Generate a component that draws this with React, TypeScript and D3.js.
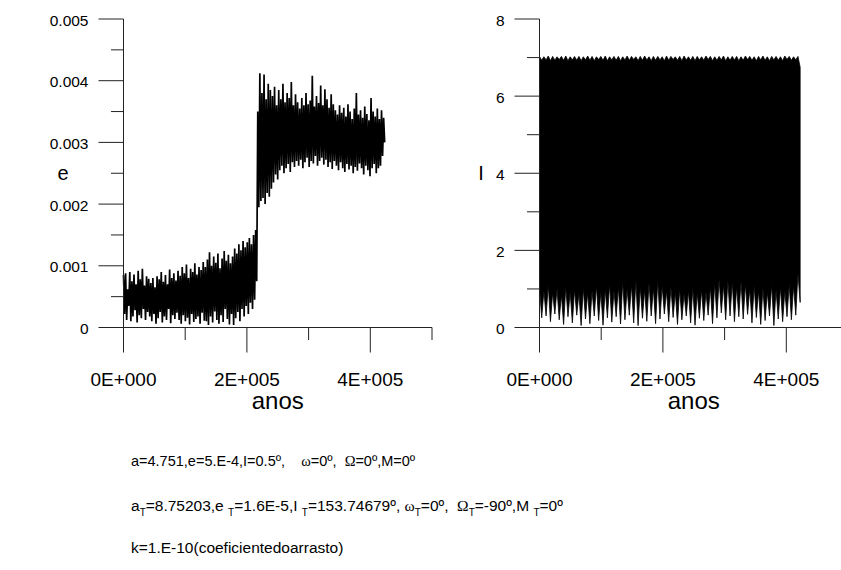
import React from 'react';
import * as d3 from 'd3';

const W = 841;
const H = 570;

// ---------- axes data ----------
const xMajorTicks = [0, 200000, 400000];
const xMajorLabels = ['0E+000', '2E+005', '4E+005'];
const xMinorTicks = [100000, 300000, 500000];
const xDomain = [0, 500000];

const eDomain = [0, 0.005];
const eMajorTicks = [0, 0.001, 0.002, 0.003, 0.004, 0.005];
const eMajorLabels = ['0', '0.001', '0.002', '0.003', '0.004', '0.005'];
const eMinorTicks = [0.0005, 0.0015, 0.0025, 0.0035, 0.0045];

const iDomain = [0, 8];
const iMajorTicks = [0, 2, 4, 6, 8];
const iMajorLabels = ['0', '2', '4', '6', '8'];
const iMinorTicks = [1, 3, 5, 7];

// ---------- eccentricity series (alternating local maxima / minima) ----------
const eStepYears = 1700;
const eHigh = [
  0.00085, 0.00088, 0.00062, 0.0009, 0.00075, 0.00086, 0.0007, 0.00092, 0.00078, 0.00095, 0.00068, 0.00083, 0.00079,
  0.00072, 0.0008, 0.00065, 0.00083, 0.00078, 0.0009, 0.00074, 0.00085, 0.0007, 0.00094, 0.0008, 0.00088, 0.00076,
  0.00092, 0.00084, 0.00098, 0.00088, 0.00102, 0.0008, 0.00095, 0.0009, 0.00104, 0.00086, 0.00098, 0.00093, 0.00106,
  0.00098, 0.0011, 0.00122, 0.001, 0.00115, 0.00105, 0.0012, 0.00096, 0.00112, 0.00124, 0.00108, 0.00118, 0.00104,
  0.00115, 0.00128, 0.0012, 0.00135, 0.00125, 0.0014, 0.0013, 0.00138, 0.00145, 0.00135, 0.0015, 0.00158,
  0.0035, 0.00412, 0.0038, 0.0041, 0.0037, 0.00395, 0.00385,
  0.00375, 0.0039, 0.0036, 0.00385, 0.0037, 0.00395, 0.00365, 0.0038, 0.00372, 0.00398, 0.0036, 0.00378,
  0.00365, 0.00355, 0.00372, 0.0036, 0.0038, 0.00362, 0.00368, 0.00408, 0.00358, 0.00375, 0.00364, 0.00392, 0.0036,
  0.00386, 0.0037, 0.00356, 0.00378, 0.00362,
  0.00352, 0.00345, 0.0036, 0.00348, 0.00356, 0.00342, 0.00362, 0.0035, 0.00338, 0.00355, 0.0038, 0.00345, 0.00352,
  0.0034, 0.00358, 0.00346, 0.00336, 0.00372, 0.0035, 0.00342, 0.00355, 0.00338, 0.00352, 0.0034,
];
const eLow = [
  0.00022, 0.00012, 0.00035, 0.0001, 0.00018, 0.00028, 0.00008, 0.0002, 0.00015, 0.0003, 0.00012, 0.00025, 0.00018,
  0.0001, 0.00022, 0.00006, 0.00015, 0.00025, 0.00008, 0.00018, 0.00012, 0.0003, 0.00007, 0.0002, 0.00014, 0.00024,
  0.00012, 0.00006, 0.0002, 0.0001, 0.00016, 0.00005, 0.00022, 0.00009, 0.00014, 0.00018, 0.00006, 0.00024, 0.00011,
  0.0001, 0.00004, 0.00018, 0.00008, 0.00026, 0.00012, 0.00006, 0.0002, 0.00009, 0.0003, 0.00014, 0.00005, 0.00022,
  0.00004, 0.00015, 0.00025, 0.0001, 0.0003, 0.00018, 0.00035, 0.00022, 0.0004, 0.0003, 0.00045, 0.00075,
  0.00195, 0.00205, 0.0021, 0.002, 0.00218, 0.00212, 0.00225,
  0.00235, 0.00248, 0.0024, 0.00255, 0.00262, 0.0025, 0.00258, 0.00265, 0.00252, 0.00268, 0.0026, 0.0027,
  0.00262, 0.00272, 0.00258, 0.00268, 0.00275, 0.0026, 0.0027, 0.00266, 0.00278, 0.00262, 0.0027, 0.00275, 0.00264,
  0.00272, 0.0026, 0.00268, 0.00257, 0.0027,
  0.00262, 0.00255, 0.00268, 0.00258, 0.00252, 0.00265, 0.00256, 0.00262, 0.0025, 0.0026, 0.00254, 0.00266, 0.00258,
  0.00248, 0.00262, 0.00255, 0.00245, 0.00258, 0.00265, 0.0025, 0.00258, 0.00262, 0.00278, 0.003,
];

// ---------- inclination series (fast oscillation envelope) ----------
const iStepYears = 3550;
const iPeak = [
  7.03, 7.02, 7.04, 7.03, 7.02, 7.03, 7.04, 7.02, 7.03, 7.03, 7.02, 7.04, 7.03, 7.02, 7.03,
  7.04, 7.02, 7.03, 7.03, 7.02, 7.04, 7.03, 7.02, 7.03, 7.04, 7.02, 7.03, 7.03, 7.02, 7.04,
  7.03, 7.02, 7.03, 7.04, 7.02, 7.03, 7.03, 7.02, 7.04, 7.03, 7.02, 7.03, 7.04, 7.02, 7.03,
  7.03, 7.02, 7.04, 7.03, 7.02, 7.03, 7.04, 7.02, 7.03, 7.03, 7.02, 7.04, 7.03, 7.02, 7.03,
];
const iDip = [
  6.93, 6.94, 6.92, 6.93, 6.95, 6.93, 6.92, 6.94, 6.93, 6.92, 6.94, 6.93, 6.92, 6.95, 6.93,
  6.92, 6.94, 6.93, 6.92, 6.94, 6.93, 6.95, 6.92, 6.93, 6.94, 6.92, 6.93, 6.94, 6.92, 6.93,
  6.95, 6.93, 6.92, 6.94, 6.93, 6.92, 6.94, 6.93, 6.95, 6.92, 6.93, 6.94, 6.92, 6.93, 6.94,
  6.92, 6.93, 6.95, 6.93, 6.92, 6.94, 6.93, 6.92, 6.94, 6.93, 6.92, 6.95, 6.93, 6.94, 6.75,
];
const iGapTop = [
  1.05, 0.95, 1.1, 0.9, 1.0, 0.85, 1.05, 0.92, 0.98, 0.88, 1.02, 0.9, 0.95, 1.08, 0.92,
  1.0, 1.12, 0.95, 1.05, 1.18, 1.0, 1.1, 1.22, 1.05, 0.98, 1.15, 1.02, 1.2, 1.08, 0.95,
  1.05, 0.92, 1.0, 0.88, 0.95, 1.02, 0.9, 0.98, 0.92, 1.05, 1.15, 1.25, 1.1, 1.22, 1.18,
  1.05, 1.2, 1.12, 1.0, 1.08, 0.95, 1.02, 0.92, 1.1, 0.98, 1.05, 0.95, 1.12, 1.08, 1.4,
];
const iMin = [
  0.25, 0.3, 0.15, 0.35, 0.2, 0.08, 0.28, 0.12, 0.32, 0.05, 0.22, 0.1, 0.3, 0.18, 0.06,
  0.25, 0.14, 0.28, 0.09, 0.2, 0.32, 0.12, 0.05, 0.24, 0.16, 0.3, 0.1, 0.22, 0.35, 0.15,
  0.26, 0.08, 0.2, 0.3, 0.12, 0.06, 0.24, 0.18, 0.32, 0.1, 0.25, 0.38, 0.2, 0.3, 0.15,
  0.28, 0.22, 0.34, 0.12, 0.26, 0.08, 0.18, 0.3, 0.05, 0.22, 0.15, 0.28, 0.2, 0.32, 0.65,
];

type Pt = { t: number; v: number };
const ePoints: Pt[] = eHigh.flatMap((h, k) => [
  { t: 2 * k * eStepYears, v: h },
  { t: (2 * k + 1) * eStepYears, v: eLow[k] },
]);
type Band = { t: number; lo: number; hi: number };
const iBand: Band[] = iPeak.flatMap((p, k) => [
  { t: 2 * k * iStepYears, lo: iGapTop[k], hi: p },
  { t: (2 * k + 1) * iStepYears, lo: iMin[k], hi: iDip[k] },
]);

const FONT = "Arial, 'Liberation Sans', Helvetica, sans-serif";
const AXIS = '#222';

function Axes(props: {
  x: d3.ScaleLinear<number, number>;
  y: d3.ScaleLinear<number, number>;
  yMajor: number[];
  yLabels: string[];
  yMinor: number[];
  yTitle: string;
  yTitleX: number;
}) {
  const { x, y, yMajor, yLabels, yMinor, yTitle, yTitleX } = props;
  const x0 = x(0);
  const y0 = y(0);
  const major = 25;
  const minor = 12.5;
  const [xa, xb] = x.range();
  const [ya, yb] = y.range();
  return (
    <g>
      <line x1={x0} x2={x0} y1={yb} y2={ya} stroke={AXIS} strokeWidth={1} />
      <line x1={xa} x2={xb} y1={y0} y2={y0} stroke={AXIS} strokeWidth={1} />
      {yMajor.map((v) => (
        <line key={'ym' + v} x1={x0 - major} x2={x0} y1={y(v)} y2={y(v)} stroke={AXIS} strokeWidth={1} />
      ))}
      {yMinor.map((v) => (
        <line key={'yn' + v} x1={x0 - minor} x2={x0} y1={y(v)} y2={y(v)} stroke={AXIS} strokeWidth={1} />
      ))}
      {xMajorTicks.map((v) => (
        <line key={'xm' + v} x1={x(v)} x2={x(v)} y1={y0} y2={y0 + major} stroke={AXIS} strokeWidth={1} />
      ))}
      {xMinorTicks.map((v) => (
        <line key={'xn' + v} x1={x(v)} x2={x(v)} y1={y0} y2={y0 + minor} stroke={AXIS} strokeWidth={1} />
      ))}
      {yMajor.map((v, i) => (
        <text
          key={'yl' + v}
          x={x0 - major - 10}
          y={y(v) + 1}
          textAnchor="end"
          dominantBaseline="central"
          fontSize={15.5}
          fontFamily={FONT}
          fill="#000"
        >
          {yLabels[i]}
        </text>
      ))}
      {xMajorTicks.map((v, i) => (
        <text key={'xl' + v} x={x(v)} y={386} textAnchor="middle" fontSize={19} fontFamily={FONT} fill="#000">
          {xMajorLabels[i]}
        </text>
      ))}
      <text x={(xa + xb) / 2} y={409} textAnchor="middle" fontSize={24} fontFamily={FONT} fill="#000">
        anos
      </text>
      <text
        x={yTitleX}
        y={(ya + yb) / 2}
        textAnchor="middle"
        dominantBaseline="central"
        fontSize={20}
        fontFamily={FONT}
        fill="#000"
      >
        {yTitle}
      </text>
    </g>
  );
}

export default function App() {
  const xL = d3.scaleLinear().domain(xDomain).range([123.5, 432]);
  const yL = d3.scaleLinear().domain(eDomain).range([327.5, 19]);
  const xR = d3.scaleLinear().domain(xDomain).range([539.5, 848]);
  const yR = d3.scaleLinear().domain(iDomain).range([327.5, 19]);

  const eLine = d3
    .line<Pt>()
    .x((d) => xL(d.t))
    .y((d) => yL(d.v))(ePoints) as string;

  const iArea = d3
    .area<Band>()
    .x((d) => xR(d.t))
    .y0((d) => yR(d.lo))
    .y1((d) => yR(d.hi))(iBand) as string;

  const textStyle: React.CSSProperties = { whiteSpace: 'pre' };
  const sub = (s: string) => (
    <tspan fontSize={10} dy={5}>
      {s}
    </tspan>
  );
  const back = (s: string) => <tspan dy={-5}>{s}</tspan>;
  const SERIF = "'Liberation Serif', 'Times New Roman', serif";

  return (
    <svg
      width={W}
      height={H}
      viewBox={`0 0 ${W} ${H}`}
      style={{ position: 'absolute', left: 0, top: 0, background: '#fff' }}
    >
      <rect x={0} y={0} width={W} height={H} fill="#fff" />
      <path d={iArea} fill="#000" stroke="#000" strokeWidth={0.8} strokeLinejoin="miter" />
      <path d={eLine} fill="none" stroke="#000" strokeWidth={1.7} strokeLinejoin="bevel" />
      <Axes x={xL} y={yL} yMajor={eMajorTicks} yLabels={eMajorLabels} yMinor={eMinorTicks} yTitle="e" yTitleX={63} />
      <Axes x={xR} y={yR} yMajor={iMajorTicks} yLabels={iMajorLabels} yMinor={iMinorTicks} yTitle="I" yTitleX={481} />

      <text x={131} y={466} fontSize={14.5} fontFamily={FONT} fill="#000" style={textStyle}>
        {'a=4.751,e=5.E-4,I=0.5º,    '}
        <tspan fontFamily={SERIF}>ω</tspan>
        {'=0º,  '}
        <tspan fontFamily={SERIF}>Ω</tspan>
        {'=0º,M=0º'}
      </text>
      <text x={131} y={511} fontSize={15.5} fontFamily={FONT} fill="#000" style={textStyle}>
        {'a'}
        {sub('T')}
        {back('=8.75203,e ')}
        {sub('T')}
        {back('=1.6E-5,I ')}
        {sub('T')}
        {back('=153.74679º, ')}
        <tspan fontFamily={SERIF}>ω</tspan>
        {sub('T')}
        {back('=0º,  ')}
        <tspan fontFamily={SERIF}>Ω</tspan>
        {sub('T')}
        {back('=-90º,M ')}
        {sub('T')}
        {back('=0º')}
      </text>
      <text x={131} y={553} fontSize={15.5} fontFamily={FONT} fill="#000" style={textStyle}>
        k=1.E-10(coeficientedoarrasto)
      </text>
    </svg>
  );
}
